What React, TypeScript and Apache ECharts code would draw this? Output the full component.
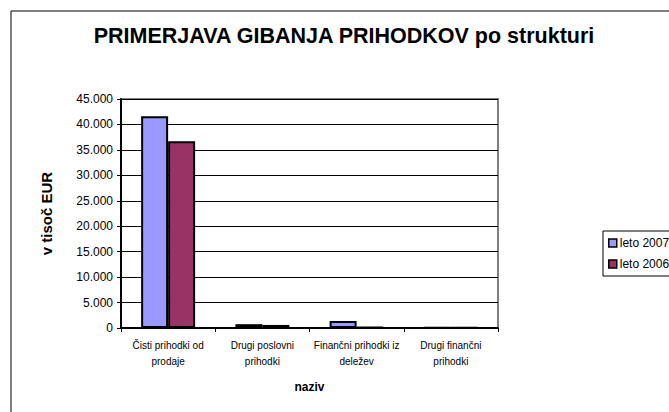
import React, { useEffect, useRef } from "react";
import * as echarts from "echarts";

const categories = [
  "Čisti prihodki od\nprodaje",
  "Drugi poslovni\nprihodki",
  "Finančni prihodki iz\ndeležev",
  "Drugi finančni\nprihodki",
];
const seriesNames = ["leto 2007", "leto 2006"];
const values2007 = [41600, 750, 1400, 80];
const values2006 = [36700, 600, 150, 60];
const yTicks = { min: 0, max: 45000, interval: 5000 };

const FONT = 'Arial, "Liberation Sans", sans-serif';

function fmt(v: number): string {
  const s = String(Math.round(v));
  return s.replace(/\B(?=(\d{3})+(?!\d))/g, ".");
}

export default function App() {
  const ref = useRef<HTMLDivElement>(null);
  useEffect(() => {
    if (!ref.current) return;
    const chart = echarts.init(ref.current, undefined, { renderer: "svg" });
    chart.setOption({
      animation: false,
      backgroundColor: "#ffffff",
      textStyle: { fontFamily: FONT, color: "#000" },
      graphic: [
        {
          type: "rect",
          shape: { x: 11, y: 11, width: 720, height: 460 },
          style: { fill: "none", stroke: "#000", lineWidth: 1 },
          silent: true,
        },
        {
          type: "text",
          x: 344,
          y: 36,
          style: {
            text: "PRIMERJAVA GIBANJA PRIHODKOV po strukturi",
            fontFamily: FONT,
            fontWeight: "bold",
            fontSize: 21.5,
            fill: "#000",
            textAlign: "center",
            textVerticalAlign: "middle",
          },
        },
      ],
      legend: {
        orient: "vertical",
        left: 603,
        top: 231,
        data: seriesNames,
        borderColor: "#000",
        borderWidth: 1,
        padding: [6, 6, 6, 5],
        itemWidth: 8,
        itemHeight: 8,
        itemGap: 9,
        icon: "rect",
        itemStyle: { borderColor: "#000", borderWidth: 1.5 },
        textStyle: { fontFamily: FONT, fontSize: 12, color: "#000", padding: [0, 0, 0, -2] },
      },
      grid: {
        left: 121,
        right: 171,
        top: 99,
        bottom: 84,
        show: true,
        borderColor: "#808080",
        borderWidth: 2,
        backgroundColor: "transparent",
      },
      xAxis: {
        type: "category",
        data: categories,
        name: "naziv",
        nameLocation: "middle",
        nameGap: 53,
        nameTextStyle: { fontFamily: FONT, fontWeight: "bold", fontSize: 12, color: "#000" },
        axisLine: { lineStyle: { color: "#000", width: 2 } },
        axisTick: { show: true, length: 4, lineStyle: { color: "#000" } },
        axisLabel: {
          fontFamily: FONT,
          fontSize: 10,
          color: "#000",
          lineHeight: 16,
          margin: 9,
          interval: 0,
        },
      },
      yAxis: {
        type: "value",
        min: yTicks.min,
        max: yTicks.max,
        interval: yTicks.interval,
        name: "v tisoč EUR",
        nameLocation: "middle",
        nameGap: 67,
        nameRotate: 90,
        nameTextStyle: { fontFamily: FONT, fontWeight: "bold", fontSize: 15, color: "#000" },
        axisLine: { show: true, lineStyle: { color: "#000", width: 2 } },
        axisTick: { show: true, length: 4, lineStyle: { color: "#000" } },
        axisLabel: {
          fontFamily: FONT,
          fontSize: 12,
          color: "#000",
          margin: 8,
          formatter: (v: number) => fmt(v),
        },
        splitLine: { show: true, lineStyle: { color: "#000", width: 1 } },
      },
      series: [
        {
          name: seriesNames[0],
          type: "bar",
          data: values2007,
          barWidth: 27,
          barGap: "0%",
          itemStyle: { color: "#9999FF", borderColor: "#000", borderWidth: 2 },
        },
        {
          name: seriesNames[1],
          type: "bar",
          data: values2006,
          barWidth: 27,
          barGap: "0%",
          itemStyle: { color: "#993366", borderColor: "#000", borderWidth: 2 },
        },
      ],
    });
    return () => chart.dispose();
  }, []);
  return (
    <div
      ref={ref}
      style={{ position: "fixed", left: 0, top: 0, width: 669, height: 412, background: "#fff" }}
    />
  );
}
